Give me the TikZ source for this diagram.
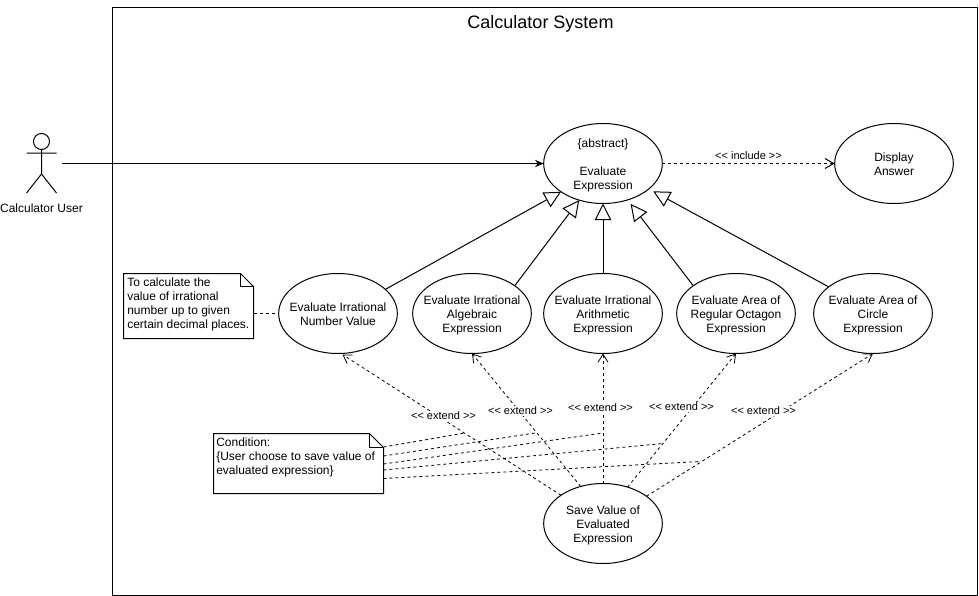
\documentclass[tikz,border=0pt]{standalone}
\usepackage{fontspec}
\setmainfont{Liberation Sans}
\usetikzlibrary{shapes.geometric,arrows.meta,calc}
\tikzset{
  x=0.75pt,y=-0.75pt,
  every node/.style={font=\fontsize{9pt}{10.5pt}\selectfont},
  usecase/.style={draw=black,fill=white,ellipse,inner sep=0pt,outer sep=0pt,minimum width=89pt,minimum height=60pt,line width=0.75pt},
  lbl/.style={fill=white,inner sep=1pt,font=\fontsize{8.25pt}{9pt}\selectfont},
  notebox/.style={inner sep=0pt,outer sep=0pt,minimum width=#1},
  notetxt/.style={anchor=north west,align=left,inner sep=0pt,font=\fontsize{9pt}{10.5pt}\selectfont},
  ln/.style={line width=0.75pt,draw=black},
  gen/.style={ln,-{Triangle[open,fill=white,length=12.5pt,width=12.5pt]}},
  ext/.style={line width=0.6pt,draw=black,dash pattern=on 2.25pt off 2.25pt,-{Straight Barb[length=6pt,width=7.5pt]}},
  dep/.style={ln,dash pattern=on 2.25pt off 2.25pt},
}
\newcommand{\uc}[1]{\raisebox{-3.75pt}[0pt][0pt]{\makebox[0pt]{\begin{tabular}{@{}c@{}}#1\end{tabular}}}}
\newcommand{\notefold}[2]{%
  \draw[ln,fill=white] (#1.south west) -- (#1.north west) -- ($(#1.north east)+(-#2,0)$) -- ($(#1.north east)+(0,#2)$) -- (#1.south east) -- cycle;
  \draw[ln] ($(#1.north east)+(-#2,0)$) -- ($(#1.north east)+(-#2,#2)$) -- ($(#1.north east)+(0,#2)$);
}
\begin{document}
\begin{tikzpicture}
\useasboundingbox (0,0) rectangle (979,596);
% system
\node[draw=black,line width=0.75pt,inner sep=0pt,outer sep=0pt,minimum width=648.75pt,minimum height=441pt] (sys) at (545.25,301.5) {};
\node[font=\fontsize{13.5pt}{16pt}\selectfont] (title) at (540.5,24) {Calculator System};
% actor
\node[draw=black,line width=0.75pt,circle,inner sep=0pt,minimum size=12pt] (head) at (41.5,141.5) {};
\coordinate (hip) at (41.5,174);
\coordinate (armL) at (26.5,153);
\coordinate (armR) at (56.5,153);
\coordinate (legL) at (26.5,193);
\coordinate (legR) at (56.5,193);
\coordinate (actorOut) at (62,163.5);
\draw[ln] (head.south) -- (hip) (armL) -- (armR) (legL) -- (hip) -- (legR);
\node (actorlbl) at (41.5,208) {Calculator User};
% use cases
\node[usecase] (main) at (603,163.5) {\uc{\{abstract\}\\[10.5pt]Evaluate\\Expression}};
\node[usecase] (disp) at (894,163.5) {\uc{Display\\Answer}};
\node[usecase] (e1) at (338,313.5) {\uc{Evaluate Irrational\\Number Value}};
\node[usecase] (e2) at (472,313.5) {\uc{Evaluate Irrational\\Algebraic\\Expression}};
\node[usecase] (e3) at (603,313.5) {\uc{Evaluate Irrational\\Arithmetic\\Expression}};
\node[usecase] (e4) at (736,313.5) {\uc{Evaluate Area of\\Regular Octagon\\Expression}};
\node[usecase] (e5) at (873,313.5) {\uc{Evaluate Area of\\Circle\\Expression}};
\node[usecase] (save) at (603,523.5) {\uc{Save Value of\\Evaluated\\Expression}};
% associations
\draw[ln,-{Stealth[length=6.5pt,width=5.5pt]}] (actorOut) -- (main.west);
\draw[dep,-{Straight Barb[length=6.5pt,width=7.5pt]}] (main.east) -- node[lbl,fill=none,pos=0.5,yshift=6pt] (inc) {<{}< include >{}>} (disp.west);
% generalisations
\draw[gen] (e1.27.5) -- (main.214.3);
\draw[gen] (e2.33) -- (main.237);
\draw[gen] (e3.90) -- (main.270);
\draw[gen,shorten >=3.75pt] (e4.147) -- (main.304.8);
\draw[gen,shorten >=3.75pt] (e5.149) -- (main.331.4);
% notes
\node[notebox=97.5pt,minimum height=48.75pt] (n1) at (188.5,306) {};
\notefold{n1}{13}
\node[notetxt] (n1t) at (127,278) {To calculate the\\value of irrational\\number up to given\\certain decimal places.};
\draw[dep] (n1.east |- e1.west) -- (e1.west);
\node[notebox=127.5pt,minimum height=45pt] (n2) at (298.5,463.5) {};
\notefold{n2}{14}
\node[notetxt] (n2t) at (216,438) {Condition:\\\{User choose to save value of\\evaluated expression\}};
% extends
\draw[ext,shorten >=1.5pt] (save.146) -- (e1.274.5);
\draw[ext] (save.121) -- (e2.270);
\draw[ext] (save.90) -- (e3.270);
\draw[ext] (save.56.7) -- (e4.270);
\draw[ext] (save.32.8) -- (e5.270);
\coordinate (c1) at (465,433);
\coordinate (c2) at (535,433);
\coordinate (c3) at (603,433);
\coordinate (c4) at (663,443.5);
\coordinate (c5) at (700,461.5);
\coordinate (s1) at (383.5,447);
\coordinate (s2) at (383.5,456);
\coordinate (s3) at (383.5,464);
\coordinate (s4) at (383.5,470);
\coordinate (s5) at (383.5,478.5);
\draw[dep,line width=0.6pt] (s1) -- (c1);
\draw[dep,line width=0.6pt] (s2) -- (c2);
\draw[dep,line width=0.6pt] (s3) -- (c3);
\draw[dep,line width=0.6pt] (s4) -- (c4);
\draw[dep,line width=0.6pt] (s5) -- (c5);
\node[lbl] (x1) at (443.5,416) {<{}< extend >{}>};
\node[lbl] (x2) at (520.5,411) {<{}< extend >{}>};
\node[lbl] (x3) at (600.5,408) {<{}< extend >{}>};
\node[lbl] (x4) at (681.5,407) {<{}< extend >{}>};
\node[lbl] (x5) at (763.5,411) {<{}< extend >{}>};
\end{tikzpicture}
\end{document}
